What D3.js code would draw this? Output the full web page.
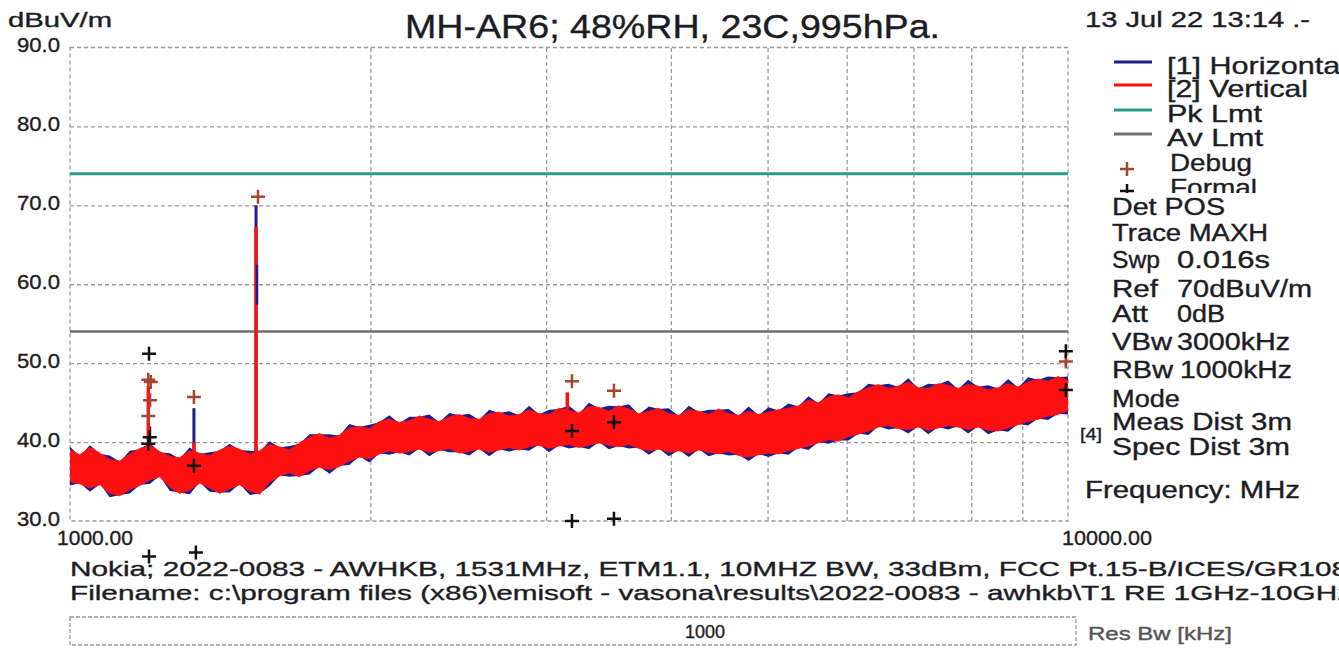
<!DOCTYPE html>
<html>
<head>
<meta charset="UTF-8">
<title>MH-AR6 radiated emissions 1-10 GHz</title>
<style>
    body {
        margin: 0;
        background: #ffffff;
    }

    svg {
        display: block;
        font-family: "Liberation Sans", Arial, sans-serif;
    }

    text {
        fill: #1c1c24;
        stroke: #1c1c24;
        stroke-width: 0.35px;
    }

    .grid line {
        stroke: #9a9a9a;
        stroke-width: 1.3;
        stroke-dasharray: 4,3;
    }

    .grid path {
        display: none;
    }

    .frame {
        fill: none;
        stroke: #9a9a9a;
        stroke-width: 1.3;
        stroke-dasharray: 4,3;
    }

    .yaxis path, .yaxis line {
        display: none;
    }

    path.marker {
        fill: none;
        stroke-width: 2.5;
    }
</style>
</head>
<body>
<script src="https://cdn.jsdelivr.net/npm/d3@7"></script>
<script>

    // frequencies (MHz) of the trace envelope samples
    var freqs = [1000,1023,1047,1072,1096,1122,1148,1175,1202,1230,
                 1259,1288,1318,1349,1380,1413,1445,1479,1514,1549,
                 1585,1622,1660,1698,1738,1778,1820,1862,1905,1950,
                 1995,2042,2089,2138,2188,2239,2291,2344,2399,2455,
                 2512,2570,2630,2692,2754,2818,2884,2951,3020,3090,
                 3162,3236,3311,3388,3467,3548,3631,3715,3802,3890,
                 3981,4074,4169,4266,4365,4467,4571,4677,4786,4898,
                 5012,5129,5248,5370,5495,5623,5754,5888,6026,6166,
                 6310,6457,6607,6761,6918,7079,7244,7413,7586,7762,
                 7943,8128,8318,8511,8710,8913,9120,9333,9550,9772,
                 10000];

    // [2] Vertical trace, upper / lower edge of the noise band (dBuV/m)
    var vertHi = [39.0,38.4,39.3,38.6,37.8,37.6,38.5,39.2,39.6,38.8,
                  38.2,38.0,38.9,38.6,38.3,39.0,39.5,39.1,38.5,38.9,
                  39.7,39.4,39.0,39.9,40.6,41.1,40.5,40.9,41.8,42.0,
                  41.7,42.6,42.9,42.5,42.7,43.3,42.9,42.6,43.2,43.5,
                  43.0,42.9,43.6,43.8,43.3,43.5,44.1,43.6,43.5,44.3,
                  44.0,43.7,44.5,44.4,43.9,44.6,44.2,43.6,43.9,44.3,
                  43.6,43.4,44.1,43.9,43.5,44.2,43.6,43.4,43.9,43.5,
                  43.8,44.1,44.3,44.6,45.3,45.0,45.7,46.0,45.6,46.4,
                  46.9,47.3,46.8,47.1,47.6,46.9,46.8,47.4,47.2,46.8,
                  47.3,47.1,46.6,46.9,47.4,47.0,47.6,48.0,47.7,48.3,
                  47.8];
    var vertLo = [35.0,34.7,34.2,34.6,33.5,33.2,34.0,34.5,35.2,35.6,
                  34.3,33.5,33.9,34.8,34.2,33.5,34.1,34.6,33.8,33.4,
                  34.9,35.7,36.1,35.6,36.4,36.8,36.5,36.9,37.6,38.1,
                  37.9,38.5,38.9,38.6,38.8,39.1,38.7,38.9,39.2,38.6,
                  38.8,39.1,38.7,39.0,39.3,39.0,39.4,39.6,39.2,39.5,
                  39.7,39.3,39.6,39.9,39.6,39.4,39.7,39.2,38.9,39.1,
                  38.7,38.9,38.6,39.0,38.7,38.5,38.8,38.3,38.1,38.4,
                  38.6,38.5,38.9,39.2,39.5,39.9,40.3,40.1,40.7,41.0,
                  41.4,41.9,42.1,41.7,41.6,41.9,41.5,41.8,42.1,41.9,
                  41.6,41.9,41.5,41.4,41.8,42.2,42.6,42.9,43.3,43.5,
                  44.0];

    // [1] Horizontal trace, upper / lower edge of the noise band (dBuV/m)
    var horHi = [39.4,38.2,39.6,38.5,38.3,37.5,38.9,39.1,39.9,38.7,
                 38.6,37.9,39.3,38.5,38.7,38.9,39.8,39.0,38.9,38.8,
                 40.1,39.3,39.5,39.8,41.0,41.0,41.0,40.8,42.3,41.9,
                 42.2,42.5,43.4,42.4,43.2,43.2,43.5,42.5,43.7,43.4,
                 43.6,42.8,44.1,43.7,43.9,43.4,44.6,43.5,44.1,44.2,
                 44.6,43.6,45.0,44.3,44.6,44.5,44.8,43.5,44.5,44.2,
                 44.3,43.3,44.6,43.8,44.1,44.1,44.2,43.3,44.5,43.4,
                 44.4,44.0,44.9,44.5,45.8,44.9,46.2,45.9,46.2,46.3,
                 47.4,47.2,47.4,47.0,48.1,46.8,47.4,47.3,47.8,46.7,
                 47.9,47.0,47.2,46.8,48.0,46.9,48.2,47.9,48.3,48.2,
                 48.3];
    var horLo = [34.5,34.8,33.7,34.7,33.0,33.3,33.5,34.6,34.7,35.7,
                 33.8,33.6,33.4,34.9,33.7,33.6,33.6,34.7,33.3,33.5,
                 34.4,35.8,35.6,35.7,35.9,36.9,36.0,37.0,37.1,38.2,
                 37.4,38.6,38.4,38.7,38.3,39.2,38.2,39.0,38.7,38.7,
                 38.3,39.2,38.2,39.1,38.8,39.1,38.9,39.7,38.7,39.6,
                 39.2,39.4,39.1,40.0,39.1,39.5,39.2,39.3,38.4,39.2,
                 38.2,39.0,38.1,39.1,38.2,38.6,38.3,38.4,37.6,38.5,
                 38.1,38.6,38.4,39.3,39.0,40.0,39.8,40.2,40.2,41.1,
                 40.9,42.0,41.6,41.8,41.1,42.0,41.0,41.9,41.6,42.0,
                 41.1,42.0,41.0,41.5,41.3,42.3,42.1,43.0,42.8,43.6,
                 43.5];

    // narrowband spikes rising out of the noise
    var horSpikeF = [1202, 1331, 1536];
    var horSpikeBase = [37.0, 37.0, 36.0];
    var horSpikeTop = [42.0, 44.3, 70.0];
    var vertSpikeF = [1198, 1331, 1536, 3150];
    var vertSpikeBase = [37.0, 37.0, 35.0, 41.5];
    var vertSpikeTop = [47.1, 40.0, 67.3, 46.3];

    // limits
    var pkLimit = 74;
    var avLimit = 54;

    // measured points
    var debugF = [1198, 1205, 1203, 1198, 1331, 1543, 3184, 3508, 9950];
    var debugV = [47.9, 47.6, 45.3, 43.3, 45.7, 71.1, 47.7, 46.5, 50.2];
    var formalF = [1200, 1202, 1198, 1331, 3184, 3508, 3184, 3508, 9950, 9950, 1200, 1337];
    var formalV = [51.2, 40.6, 39.8, 37.0, 41.4, 42.5, 30.0, 30.3, 51.5, 46.6, 25.5, 26.0];

    var yTicks = [30, 40, 50, 60, 70, 80, 90];
    var xGrid = [2000, 3000, 4000, 5000, 6000, 7000, 8000, 9000];

    var legendLabels = ["[1] Horizontal", "[2] Vertical", "Pk Lmt", "Av Lmt", "Debug", "Formal"];
    var infoKeys = ["Det POS", "Trace MAXH", "Swp", "Ref", "Att", "VBw", "RBw", "Mode", "Meas Dist 3m", "Spec Dist 3m"];
    var infoVals = ["", "", "0.016s", "70dBuV/m", "0dB", "3000kHz", "1000kHz", "", "", ""];

    var W = 1339, H = 648;
    var plotL = 70, plotR = 1068, plotT = 47.5, plotB = 521;

    var colHor = "#1e1e8a",
        colVert = "#ff1010",
        colPk = "#2a9a8a",
        colAv = "#6e6e6e",
        colDebug = "#a8452e",
        colFormal = "#111111";

    var x = d3.scaleLog().domain([1000, 10000]).range([plotL, plotR]);
    var y = d3.scaleLinear().domain([30, 90]).range([plotB, plotT]);

    var svg = d3.select("body").append("svg")
            .attr("width", W)
            .attr("height", H);

    svg.append("rect").attr("width", W).attr("height", H).attr("fill", "#fff");

    function label(str, px, py, size, len, anchor) {
        var t = svg.append("text")
                .attr("x", px)
                .attr("y", py)
                .style("font-size", size + "px")
                .text(str);
        if (len) t.attr("textLength", len).attr("lengthAdjust", "spacingAndGlyphs");
        if (anchor) t.attr("text-anchor", anchor);
        return t;
    }

    svg.append("clipPath")
            .attr("id", "clip")
            .append("rect")
            .attr("x", plotL)
            .attr("y", plotT)
            .attr("width", plotR - plotL)
            .attr("height", plotB - plotT);

    // grid
    svg.append("g")
            .attr("class", "grid")
            .attr("transform", "translate(0," + plotB + ")")
            .call(d3.axisBottom(x).tickValues(xGrid).tickSize(-(plotB - plotT)).tickFormat(""));

    svg.append("g")
            .attr("class", "grid")
            .attr("transform", "translate(" + plotL + ",0)")
            .call(d3.axisLeft(y).tickValues(yTicks.slice(1, -1)).tickSize(-(plotR - plotL)).tickFormat(""));

    svg.append("rect")
            .attr("class", "frame")
            .attr("x", plotL)
            .attr("y", plotT)
            .attr("width", plotR - plotL)
            .attr("height", plotB - plotT);

    // y tick labels
    var yAxis = svg.append("g")
            .attr("class", "yaxis")
            .attr("transform", "translate(60,0)")
            .call(d3.axisLeft(y).tickValues(yTicks).tickSize(0).tickPadding(0).tickFormat(d3.format(".1f")));
    yAxis.selectAll("text")
            .attr("dy", "0.2em")
            .attr("fill", "#1c1c24")
            .attr("textLength", 43)
            .attr("lengthAdjust", "spacingAndGlyphs")
            .style("font-size", "20px")
            .style("font-family", "'Liberation Sans', Arial, sans-serif");

    label("1000.00", 57, 545, 20, 76);
    label("10000.00", 1062, 545, 20, 90);

    // limit lines
    svg.append("line")
            .attr("x1", plotL).attr("x2", plotR)
            .attr("y1", y(pkLimit)).attr("y2", y(pkLimit))
            .attr("stroke", colPk).attr("stroke-width", 3);
    svg.append("line")
            .attr("x1", plotL).attr("x2", plotR)
            .attr("y1", y(avLimit)).attr("y2", y(avLimit))
            .attr("stroke", colAv).attr("stroke-width", 2.5);

    // traces
    var traces = svg.append("g").attr("clip-path", "url(#clip)");

    var horArea = d3.area()
            .x(function (d, i) { return x(freqs[i]); })
            .y0(function (d, i) { return y(horLo[i]); })
            .y1(function (d, i) { return y(horHi[i]); });

    var vertArea = d3.area()
            .x(function (d, i) { return x(freqs[i]); })
            .y0(function (d, i) { return y(vertLo[i]); })
            .y1(function (d, i) { return y(vertHi[i]); });

    traces.selectAll("line.hspike")
            .data(horSpikeF)
            .enter().append("line")
            .attr("class", "hspike")
            .attr("x1", function (d) { return x(d); })
            .attr("x2", function (d) { return x(d); })
            .attr("y1", function (d, i) { return y(horSpikeBase[i]); })
            .attr("y2", function (d, i) { return y(horSpikeTop[i]); })
            .attr("stroke", colHor)
            .attr("stroke-width", 3);

    traces.append("path")
            .datum(freqs)
            .attr("d", horArea)
            .attr("fill", colHor);

    traces.append("path")
            .datum(freqs)
            .attr("d", vertArea)
            .attr("fill", colVert)
            .attr("stroke", colVert)
            .attr("stroke-width", 0.8);

    traces.selectAll("line.vspike")
            .data(vertSpikeF)
            .enter().append("line")
            .attr("class", "vspike")
            .attr("x1", function (d) { return x(d); })
            .attr("x2", function (d) { return x(d); })
            .attr("y1", function (d, i) { return y(vertSpikeBase[i]); })
            .attr("y2", function (d, i) { return y(vertSpikeTop[i]); })
            .attr("stroke", colVert)
            .attr("stroke-width", 3.5);

    // horizontal trace shows through in the middle of the big 1531 MHz spike
    traces.append("line")
            .attr("x1", x(horSpikeF[2]) + 1).attr("x2", x(horSpikeF[2]) + 1)
            .attr("y1", y(57.4)).attr("y2", y(62.5))
            .attr("stroke", colHor).attr("stroke-width", 2.5);

    // markers
    var plus = "M-7,0H7M0,-7V7";
    svg.selectAll("path.debug")
            .data(debugF)
            .enter().append("path")
            .attr("class", "marker debug")
            .attr("d", plus)
            .attr("stroke", colDebug)
            .attr("transform", function (d, i) { return "translate(" + x(d) + "," + y(debugV[i]) + ")"; });

    svg.selectAll("path.formal")
            .data(formalF)
            .enter().append("path")
            .attr("class", "marker formal")
            .attr("d", plus)
            .attr("stroke", colFormal)
            .attr("transform", function (d, i) { return "translate(" + x(d) + "," + y(formalV[i]) + ")"; });

    // titles
    label("dBuV/m", 8, 27, 20, 104);
    label("MH-AR6; 48%RH, 23C,995hPa.", 405, 38, 33, 535);
    label("13 Jul 22 13:14 .-", 1085, 27, 22, 225);

    // legend
    var legendY = [74, 97, 122, 146, 171, 196];
    var legendLen = [180, 141, 95, 96, 82, 87];
    var legendCol = [colHor, colVert, colPk, colAv];
    legendCol.forEach(function (c, i) {
        svg.append("line")
                .attr("x1", 1114).attr("x2", 1152)
                .attr("y1", legendY[i] - 12).attr("y2", legendY[i] - 12)
                .attr("stroke", c).attr("stroke-width", 3);
    });
    svg.append("path").attr("class", "marker").attr("d", plus)
            .attr("stroke", colDebug).attr("transform", "translate(1127,169)");
    svg.append("path").attr("class", "marker").attr("d", plus)
            .attr("stroke", colFormal).attr("transform", "translate(1127,191)");
    legendLabels.forEach(function (s, i) {
        label(s, i < 4 ? 1167 : 1170, legendY[i], 24, legendLen[i]);
    });

    // instrument settings block sits over the bottom of the legend
    svg.append("rect")
            .attr("x", 1100).attr("y", 193)
            .attr("width", W - 1100).attr("height", 270)
            .attr("fill", "#fff");

    var infoY = [215, 241, 268, 297, 322, 350, 378, 407, 430, 455];
    var keyLen = [113, 156, 48, 46, 36, 60, 61, 68, 180, 178];
    var valLen = [0, 0, 93, 135, 48, 113, 112, 0, 0, 0];
    infoKeys.forEach(function (s, i) {
        label(s, 1112, infoY[i], 23, keyLen[i]);
        if (infoVals[i]) label(infoVals[i], i === 6 ? 1180 : 1177, infoY[i], 23, valLen[i]);
    });
    label("[4]", 1080, 440, 17, 22);
    label("Frequency: MHz", 1085, 498, 23, 215);

    // footer
    label("Nokia; 2022-0083 - AWHKB, 1531MHz, ETM1.1, 10MHZ BW, 33dBm, FCC Pt.15-B/ICES/GR108", 70, 576, 21, 1278);
    label("Filename: c:\\program files (x86)\\emisoft - vasona\\results\\2022-0083 - awhkb\\T1 RE 1GHz-10GHz", 70, 600, 21, 1282);

    svg.append("rect")
            .attr("x", 70).attr("y", 617)
            .attr("width", 1006).attr("height", 28)
            .attr("fill", "none")
            .attr("stroke", "#9a9a9a")
            .attr("stroke-width", 1.3)
            .attr("stroke-dasharray", "4,2");
    label("1000", 705, 638, 19, 40, "middle");
    label("Res Bw [kHz]", 1088, 640, 18, 144).style("fill", "#555").style("stroke", "#555");

</script>
</body>
</html>
